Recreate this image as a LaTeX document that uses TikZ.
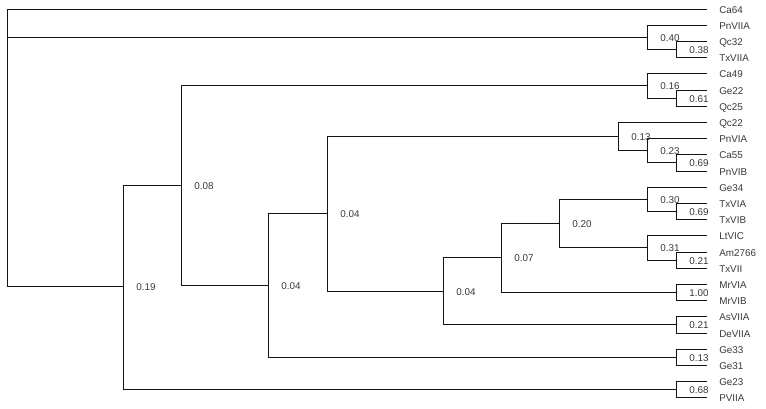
\documentclass[tikz,border=0pt]{standalone}
\usepackage{fontspec}
\setmainfont{Liberation Sans}
\begin{document}
\begin{tikzpicture}[x=0.75pt,y=-0.75pt,
  br/.style={draw=black!92, line width=0.9pt},
  leaf/.style={anchor=west, inner xsep=9pt, inner ysep=0pt, text height=6pt, text depth=0.7pt,
    font=\fontsize{7.4}{8}\selectfont, text=black!78},
  blab/.style={anchor=west, inner xsep=9.5pt, inner ysep=0pt, text height=6pt, text depth=0.7pt,
    font=\fontsize{7.4}{8}\selectfont, text=black!78}]
\useasboundingbox (0,0) rectangle (766,408);
% leaves
\node[leaf] (Ca64)   at (707,9.5)   {Ca64};
\node[leaf] (PnVIIA) at (707,25.5)  {PnVIIA};
\node[leaf] (Qc32)   at (707,41.5)  {Qc32};
\node[leaf] (TxVIIA) at (707,57.5)  {TxVIIA};
\node[leaf] (Ca49)   at (707,73.5)  {Ca49};
\node[leaf] (Ge22)   at (707,90.5)  {Ge22};
\node[leaf] (Qc25)   at (707,106.5) {Qc25};
\node[leaf] (Qc22)   at (707,122.5) {Qc22};
\node[leaf] (PnVIA)  at (707,138.5) {PnVIA};
\node[leaf] (Ca55)   at (707,154.5) {Ca55};
\node[leaf] (PnVIB)  at (707,171.5) {PnVIB};
\node[leaf] (Ge34)   at (707,187.5) {Ge34};
\node[leaf] (TxVIA)  at (707,203.5) {TxVIA};
\node[leaf] (TxVIB)  at (707,219.5) {TxVIB};
\node[leaf] (LtVIC)  at (707,235.5) {LtVIC};
\node[leaf] (Am2766) at (707,252.5) {Am2766};
\node[leaf] (TxVII)  at (707,268.5) {TxVII};
\node[leaf] (MrVIA)  at (707,284.5) {MrVIA};
\node[leaf] (MrVIB)  at (707,300.5) {MrVIB};
\node[leaf] (AsVIIA) at (707,316.5) {AsVIIA};
\node[leaf] (DeVIIA) at (707,333.5) {DeVIIA};
\node[leaf] (Ge33)   at (707,349.5) {Ge33};
\node[leaf] (Ge31)   at (707,365.5) {Ge31};
\node[leaf] (Ge23)   at (707,381.5) {Ge23};
\node[leaf] (PVIIA)  at (707,397.5) {PVIIA};
% internal nodes
\coordinate (R)  at (7.5,148.5);
\coordinate (A)  at (647.5,37.5);
\coordinate (A2) at (676.5,49.5);
\coordinate (B)  at (123.5,286.5);
\coordinate (C)  at (181.5,185.5);
\coordinate (D)  at (647.5,85.5);
\coordinate (D2) at (676.5,98.5);
\coordinate (E)  at (268.5,285.5);
\coordinate (F)  at (327.5,213.5);
\coordinate (G)  at (676.5,357.5);
\coordinate (H)  at (618.5,136.5);
\coordinate (H2) at (647.5,150.5);
\coordinate (H3) at (676.5,162.5);
\coordinate (I)  at (443.5,291.5);
\coordinate (J)  at (501.5,257.5);
\coordinate (K)  at (676.5,324.5);
\coordinate (L)  at (559.5,223.5);
\coordinate (M)  at (676.5,292.5);
\coordinate (N)  at (647.5,199.5);
\coordinate (N2) at (676.5,211.5);
\coordinate (O)  at (647.5,247.5);
\coordinate (O2) at (676.5,260.5);
\coordinate (Z)  at (676.5,389.5);
% branches
\draw[br] (R) |- (Ca64.west);
\draw[br] (R) |- (A);
\draw[br] (R) |- (B);
\draw[br] (A) |- (PnVIIA.west);
\draw[br] (A) |- (A2);
\draw[br] (A2) |- (Qc32.west);
\draw[br] (A2) |- (TxVIIA.west);
\draw[br] (B) |- (C);
\draw[br] (B) |- (Z);
\draw[br] (Z) |- (Ge23.west);
\draw[br] (Z) |- (PVIIA.west);
\draw[br] (C) |- (D);
\draw[br] (C) |- (E);
\draw[br] (D) |- (Ca49.west);
\draw[br] (D) |- (D2);
\draw[br] (D2) |- (Ge22.west);
\draw[br] (D2) |- (Qc25.west);
\draw[br] (E) |- (F);
\draw[br] (E) |- (G);
\draw[br] (G) |- (Ge33.west);
\draw[br] (G) |- (Ge31.west);
\draw[br] (F) |- (H);
\draw[br] (F) |- (I);
\draw[br] (H) |- (Qc22.west);
\draw[br] (H) |- (H2);
\draw[br] (H2) |- (PnVIA.west);
\draw[br] (H2) |- (H3);
\draw[br] (H3) |- (Ca55.west);
\draw[br] (H3) |- (PnVIB.west);
\draw[br] (I) |- (J);
\draw[br] (I) |- (K);
\draw[br] (K) |- (AsVIIA.west);
\draw[br] (K) |- (DeVIIA.west);
\draw[br] (J) |- (L);
\draw[br] (J) |- (M);
\draw[br] (M) |- (MrVIA.west);
\draw[br] (M) |- (MrVIB.west);
\draw[br] (L) |- (N);
\draw[br] (L) |- (O);
\draw[br] (N) |- (Ge34.west);
\draw[br] (N) |- (N2);
\draw[br] (N2) |- (TxVIA.west);
\draw[br] (N2) |- (TxVIB.west);
\draw[br] (O) |- (LtVIC.west);
\draw[br] (O) |- (O2);
\draw[br] (O2) |- (Am2766.west);
\draw[br] (O2) |- (TxVII.west);
% support values
\node[blab] (lA)  at (A)  {0.40};
\node[blab] (lA2) at (A2) {0.38};
\node[blab] (lB)  at (B)  {0.19};
\node[blab] (lC)  at (C)  {0.08};
\node[blab] (lD)  at (D)  {0.16};
\node[blab] (lD2) at (D2) {0.61};
\node[blab] (lE)  at (E)  {0.04};
\node[blab] (lF)  at (F)  {0.04};
\node[blab] (lG)  at (G)  {0.13};
\node[blab] (lH)  at (H)  {0.13};
\node[blab] (lH2) at (H2) {0.23};
\node[blab] (lH3) at (H3) {0.69};
\node[blab] (lI)  at (I)  {0.04};
\node[blab] (lJ)  at (J)  {0.07};
\node[blab] (lK)  at (K)  {0.21};
\node[blab] (lL)  at (L)  {0.20};
\node[blab] (lM)  at (M)  {1.00};
\node[blab] (lN)  at (N)  {0.30};
\node[blab] (lN2) at (N2) {0.69};
\node[blab] (lO)  at (O)  {0.31};
\node[blab] (lO2) at (O2) {0.21};
\node[blab] (lZ)  at (Z)  {0.68};
\end{tikzpicture}
\end{document}
